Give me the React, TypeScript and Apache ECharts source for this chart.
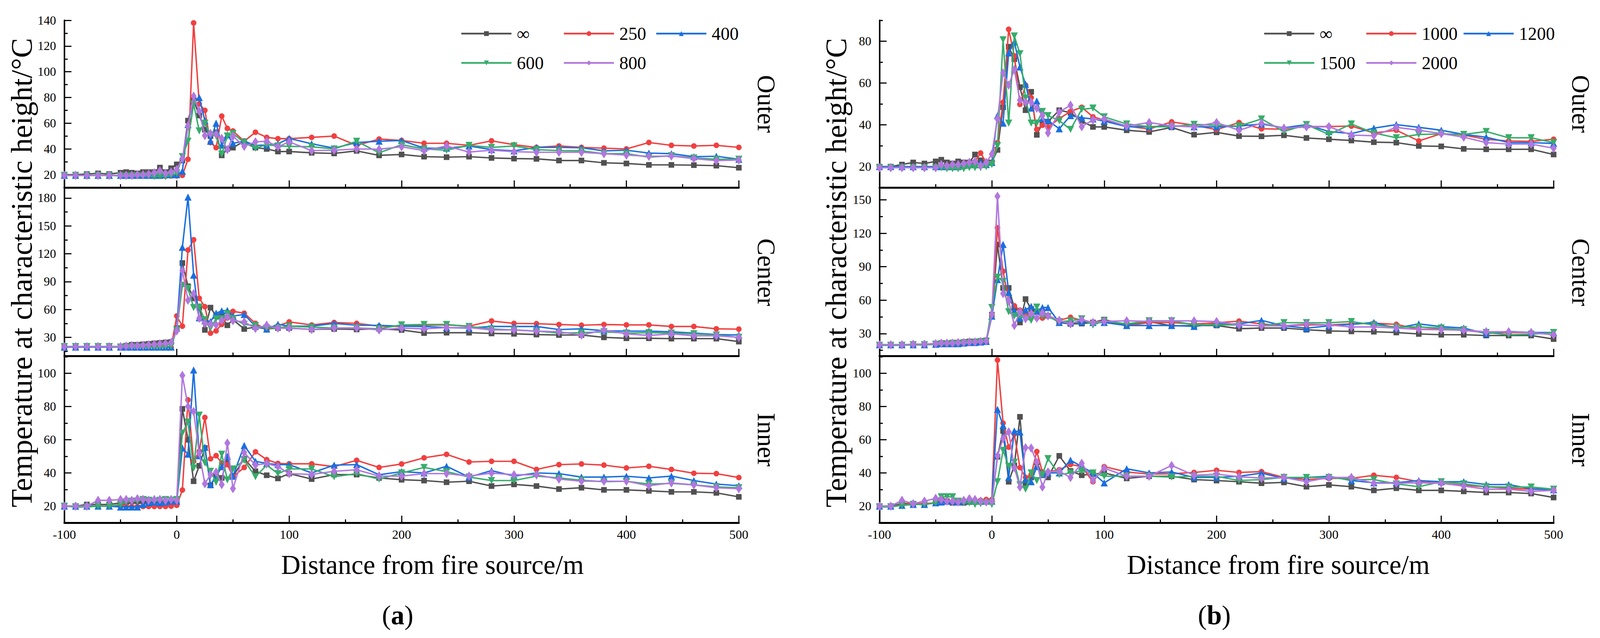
import React, { useEffect, useRef } from 'react';
import * as echarts from 'echarts';

const FONT = '"Liberation Serif", "Times New Roman", serif';
const REF_W = 4277;
const REF_H = 1633;

const distances = [-100, -90, -80, -70, -60, -50, -45, -40, -35, -30, -25, -20, -15, -10, -5, 0, 5, 10, 15, 20, 25, 30, 35, 40, 45, 50, 60, 70, 80, 90, 100, 120, 140, 160, 180, 200, 220, 240, 260, 280, 300, 320, 340, 360, 380, 400, 420, 440, 460, 480, 500];
const xTicks = [-100, 0, 100, 200, 300, 400, 500];

const aNames = ['∞', '250', '400', '600', '800'];
const bNames = ['∞', '1000', '1200', '1500', '2000'];

// (a) Outer
const aOuterInf = [20, 20, 20.5, 21, 20.5, 21.5, 22, 21.5, 21, 22, 22, 22, 25.5, 22, 25, 28, 31, 62, 78, 66, 55, 50, 53, 35, 40, 41, 46, 41, 40, 38, 38, 37, 36.5, 38.5, 35, 35.7, 34, 33.6, 34, 33, 32.5, 32.3, 31, 31, 29.2, 28.7, 27.6, 27.6, 27.4, 27, 25.4];
const aOuter250 = [19.5, 19.5, 19.5, 19.5, 19.5, 19.5, 19, 19, 19, 19, 19, 19, 18.8, 18.8, 19, 19, 19.5, 32, 138, 75, 70, 45, 41, 65.5, 56, 54, 46, 53, 49, 48, 48, 49, 50, 42.8, 47.7, 46.6, 44.4, 44.4, 42.8, 46.3, 43.3, 41.2, 42.3, 41.2, 40.6, 40, 45, 42.8, 42.3, 42.8, 41.2];
const aOuter400 = [19.5, 19.5, 19.5, 19.5, 19.5, 19.5, 19.5, 19.5, 19.5, 19.5, 19.5, 19.5, 19.5, 20, 20, 20, 22.7, 59, 77, 80, 62, 46, 60, 43, 51, 44.4, 46, 42.8, 43, 44, 48.2, 44, 40.6, 45, 46, 46.6, 40.6, 40.6, 42.3, 39.5, 38.5, 41.2, 41.2, 40.9, 38.5, 39, 36.8, 36.3, 34, 34.3, 32];
const aOuter600 = [19.5, 19.5, 19.5, 19.5, 19.5, 19, 19, 19, 19, 19, 19, 18.5, 19, 18.5, 19.5, 21, 34, 46, 75, 54, 60, 51, 50, 36, 50, 52, 45, 40.6, 43.3, 42.3, 42, 41.7, 40, 46, 37, 43.3, 40, 39, 42.8, 41.2, 42.3, 39.5, 38.7, 38.5, 36.3, 36.3, 33.6, 34.7, 33, 32, 32];
const aOuter800 = [19.5, 19.5, 19.5, 19.5, 19.5, 19.5, 19.5, 19.5, 20, 20, 20.5, 21.5, 23, 21, 22, 24, 32.5, 58, 81, 69.4, 50.4, 52, 51.5, 48.2, 39.5, 49.9, 42, 45.5, 46, 41.7, 45.5, 38.7, 39, 40, 39.8, 41.7, 38.7, 42.3, 37.6, 39, 37.9, 37.4, 37.4, 37.4, 36.3, 35.2, 34.3, 34.5, 32.5, 30.9, 31.4];

// (a) Center
const aCenterInf = [20, 20, 20, 20, 20, 20, 21, 22, 22, 22.5, 23, 23.5, 24, 24.5, 25, 40, 110, 85, 72, 62, 38, 62, 53, 52, 43, 49, 39, 41, 39, 40, 40, 38.5, 39, 38.5, 39.2, 37.9, 34.6, 35, 35, 34.2, 33.8, 33, 32.5, 32.5, 30, 29, 29, 28.6, 28.6, 28.6, 25.4];
const aCenter250 = [20, 20, 20, 20, 20, 20, 20, 20, 20, 20, 20, 20, 20, 20, 19, 53, 42, 124, 135, 72, 63, 34.5, 37, 44, 51, 58, 56, 45, 38, 42.5, 46.6, 43.3, 46, 45, 42.1, 41.7, 43, 43.4, 42.1, 47.6, 45, 44.7, 43.8, 43, 43.8, 43.4, 43.4, 41.7, 41.7, 39.2, 38.8];
const aCenter400 = [19.5, 19.5, 19.5, 19.5, 19.5, 19.5, 19.5, 19.5, 19.5, 19.5, 19.5, 19.5, 19.5, 19.5, 19.5, 40, 127, 181, 97, 51, 48, 47, 56, 58.5, 59, 53, 54.6, 42, 39, 44, 42, 42, 45, 43, 42.9, 42, 41.7, 40.5, 40, 41.7, 41.7, 41.7, 38.4, 39.2, 37.1, 36.7, 36.7, 35.9, 34.6, 33, 32.5];
const aCenter600 = [20, 20, 20, 20, 20, 19.5, 19.5, 19.5, 19.5, 19.5, 19.5, 19.5, 19.5, 20, 20.5, 38, 86, 82.7, 62, 62.6, 49, 40, 49.8, 50, 55.4, 50, 44, 42.5, 40, 40, 42, 41, 40, 40, 39.2, 43.4, 43.8, 43.8, 41.7, 39, 37.9, 36.7, 34.6, 35, 36, 34.6, 35, 34.6, 33.8, 32.5, 30];
const aCenter800 = [20, 20, 20, 20, 20, 20, 20.5, 21, 21, 21.5, 22, 22.5, 23, 23.5, 24.5, 37, 102, 70, 77, 50.6, 45, 44, 43.3, 48.2, 52, 48, 46.6, 39.6, 43, 40, 40, 38.5, 40, 40, 38, 40, 39.2, 40.5, 40.5, 38, 38, 36.7, 36, 32.5, 37.9, 33.8, 32, 33.8, 31.7, 31.7, 30];

// (a) Inner
const aInnerInf = [20, 20, 21, 21, 21, 22, 22.5, 23, 23, 23, 22.5, 23, 23, 22.5, 23, 22.6, 78.6, 60, 35, 44.3, 55, 32.5, 38, 37, 48, 38, 48.5, 41, 38.6, 36.7, 39.6, 36.3, 39, 39, 37, 35.9, 35.4, 34.4, 35, 32.1, 33.1, 32.1, 30.3, 31.1, 29.8, 29.8, 29.2, 28.6, 28.6, 28, 25.6];
const aInner250 = [20, 20, 20, 20, 20, 20, 20, 19.8, 19.8, 19.8, 19.8, 19.8, 19.8, 19.8, 20, 20.5, 29.7, 84, 47, 53, 73.4, 48.5, 50.4, 46, 45, 37.7, 43.3, 52.7, 48, 45.7, 45.5, 45.5, 43.8, 47.6, 43.3, 45.4, 49.1, 51.2, 46.6, 47, 47, 42.1, 45, 45.4, 44.7, 43, 44, 42.1, 39.8, 39.6, 37.2];
const aInner400 = [20, 20, 20, 20, 20, 19.5, 19.5, 19.5, 19.5, 21, 22, 22.5, 22, 22.5, 23, 23, 55, 51.3, 102, 50.4, 55.5, 33, 37.7, 43.8, 50, 38, 56.5, 47, 45.7, 45, 45, 40, 44.7, 45, 38.9, 40.8, 40, 44, 37.5, 41.4, 38.1, 40, 39.6, 37.5, 37.5, 38, 37, 38.1, 35.4, 33.3, 32.3];
const aInner600 = [20, 19.5, 19.5, 20, 20, 21, 22.5, 23, 23, 24, 23.5, 23, 23.5, 24, 23.5, 24, 64, 70.6, 42.9, 74.8, 46.1, 41, 34.4, 51.3, 35.8, 42.4, 47.6, 37.7, 44.7, 39.6, 42.4, 42.4, 37.7, 39.6, 36.3, 40, 43.3, 40.8, 37.5, 35.4, 35.4, 38.1, 37, 35.6, 34.7, 35, 33.3, 33.7, 32.8, 31.6, 31.1];
const aInner800 = [20, 20, 20, 23.5, 23.5, 24, 24, 23.5, 24.5, 24, 23.5, 24, 24, 23.5, 24, 23.5, 98.7, 80, 77, 52, 33.5, 39, 40.5, 33, 58, 30.6, 52.3, 44.7, 45.7, 43.8, 39.6, 39.1, 41, 41.9, 38.1, 38.1, 39.6, 39.6, 38.1, 39.9, 38.9, 38.9, 36.3, 35, 35, 35, 32.3, 34, 32.8, 31.1, 30.5];

// (b) Outer
const bOuterInf = [20, 20, 21, 22, 21.5, 22.5, 23.3, 22, 21.5, 22.5, 22, 22, 25.8, 23, 22, 22, 28, 48.4, 77.4, 71.4, 58, 47, 55.8, 35.2, 40.8, 41.5, 47, 45.8, 41.8, 39, 39, 37.4, 36.6, 38.8, 35.3, 36.4, 34.6, 34.5, 35, 33.7, 33.1, 32.5, 31.7, 31.5, 29.9, 29.7, 28.5, 28.3, 28.3, 28.3, 25.8];
const bOuter1000 = [20, 20, 20, 20, 20, 20, 20, 20, 20, 20, 20, 21, 22.5, 26.5, 22, 22, 31.5, 50.8, 85.7, 73, 49.8, 59, 53, 37.8, 39.8, 38.8, 43, 46.4, 48.4, 43.8, 42.4, 39.4, 38, 41.4, 39.8, 37.7, 41.1, 38.1, 37.9, 39.2, 39.2, 39.4, 36.1, 37.4, 32.3, 35.8, 35.1, 33.1, 32.3, 32.1, 33.1];
const bOuter1200 = [20, 20, 20, 20, 20, 20, 20, 20, 20, 20, 21, 21.5, 21, 22, 21, 22, 44.4, 40.8, 74.4, 79.7, 67.7, 59.4, 48, 51.4, 43, 42.1, 38.1, 44.4, 43.4, 42.8, 41.8, 39.1, 39.1, 39.5, 39.1, 39, 39.4, 40.4, 38.6, 40.1, 36.8, 35.8, 38.4, 40.1, 38.8, 37.4, 35.4, 34.1, 31.5, 31.5, 31.1];
const bOuter1500 = [19.5, 19.5, 19.5, 19.5, 19.5, 19.5, 19.5, 19, 19, 19, 19, 19.5, 19.5, 19.5, 20, 21, 30, 80.7, 40.8, 82.5, 74, 52.8, 40.8, 40.8, 46.4, 44.4, 42, 37.8, 47.4, 48, 43.8, 40.4, 39.1, 39.1, 40.2, 39.8, 39.4, 42.8, 36.8, 40.1, 35.4, 40.4, 36.1, 33.8, 35.4, 35.6, 35.4, 36.8, 33.8, 33.8, 31.5];
const bOuter2000 = [19.5, 19.5, 19.5, 19.5, 19.5, 19.5, 21, 20.5, 21, 21, 21.5, 22, 22.5, 20.5, 22, 26, 42.8, 64.8, 59, 66.4, 51.8, 50.8, 50.8, 48, 44.4, 36.1, 46.1, 49.4, 39.1, 42.4, 42.8, 39.4, 41.1, 39.5, 39, 41.1, 37.4, 40.8, 38.4, 39, 39.1, 35.1, 34.8, 38.8, 37.4, 35.8, 34.1, 31.5, 30.8, 30.8, 28.8];

// (b) Center
const bCenterInf = [20, 20, 20, 20.5, 20.5, 21, 21.5, 21.5, 22, 22, 22.5, 23, 23, 23.5, 24, 47, 110, 71, 71, 53, 40, 61, 52, 50, 48.5, 46, 40, 38.7, 39, 40, 42.6, 37.7, 40.8, 37, 37.3, 37.3, 34.4, 35, 35, 33.5, 32.4, 32, 31.7, 31, 29.7, 29, 29, 28.3, 28.3, 28.3, 25.1];
const bCenter1000 = [20, 20, 20, 20, 20, 20.5, 21, 21, 21, 21.5, 22, 22.5, 22.5, 23, 23.5, 46, 125, 86, 60, 55, 51, 48, 46, 44, 44, 46, 42, 44.6, 42, 40, 41, 37, 40, 40, 38.5, 39.8, 41.2, 38.7, 37, 37.8, 37.8, 38.7, 39.4, 38.3, 33.8, 34.4, 33, 31, 31, 31, 29];
const bCenter1200 = [20, 20, 20, 20, 20, 20.5, 21, 21, 21, 21, 21.5, 22, 22, 22.5, 23, 45.7, 78.5, 110, 67, 50.6, 44, 51.3, 54.4, 50, 53.4, 53.4, 40, 40, 40.5, 40, 40, 37.3, 37.3, 37.3, 36.5, 38.7, 38.7, 41.9, 37, 34.9, 37, 38.3, 40, 35, 38.7, 36.3, 35, 30, 32, 31, 31];
const bCenter1500 = [19.5, 19.5, 19.5, 20, 20, 20.5, 20.5, 20.5, 21, 21, 21.5, 21.5, 22, 22.5, 23, 53.4, 80.6, 76.8, 49.6, 45.7, 45.7, 43.4, 41.9, 53.8, 45.7, 45, 40.8, 41.5, 43.3, 37.7, 41.5, 38.7, 41.5, 41.5, 37.8, 37.8, 37.8, 37, 39.8, 39.8, 39.8, 40.8, 37.8, 36, 36, 35, 33.5, 31, 29, 29.5, 31];
const bCenter2000 = [20, 20, 20, 20.5, 20.5, 21, 21.5, 21.5, 21.5, 22, 22, 22.5, 22.5, 23, 23.5, 47.4, 153.2, 66, 59.3, 37.3, 49.6, 43.4, 48, 44, 48.6, 46, 41.9, 38.7, 42.6, 40, 41, 41.5, 41, 41.5, 41.4, 40.8, 37.8, 37, 37, 38.7, 37.8, 36, 36, 35, 33.8, 33.5, 33, 31.7, 31.7, 31, 29];

// (b) Inner
const bInnerInf = [20, 20, 21.7, 21.5, 21, 22.3, 23.6, 23, 22, 22.5, 22, 22.5, 22.5, 22.5, 23, 23, 49.7, 65.3, 34.7, 44.5, 73.8, 34, 37.3, 46.4, 38.6, 37.3, 50.3, 41.2, 38.6, 39.3, 40, 36.7, 38, 38, 36, 35.4, 34.7, 33.8, 34.3, 31.7, 32.8, 31.7, 29.5, 30.8, 29.5, 29.5, 28.9, 28.2, 28.2, 27.6, 25.2];
const bInner1000 = [20, 20, 21, 21.5, 21.5, 22, 23, 23, 22.5, 23, 23.5, 23, 23.5, 23.5, 24, 24, 108, 70, 55.5, 63.4, 43.2, 37.3, 39, 52.9, 40.6, 40.6, 41.9, 45.1, 43.8, 34.7, 43.8, 40.6, 39.3, 39.5, 40.3, 41.6, 40.3, 40.8, 37.3, 36, 36.7, 36.7, 38.6, 37.3, 34.7, 33.8, 32.5, 31.7, 30.8, 30.2, 29.9];
const bInner1200 = [20, 20, 20.5, 21, 21, 22, 22.5, 23, 23, 22.5, 23, 24, 23.5, 23, 23, 23, 78.3, 68.6, 37.3, 65.3, 64.7, 36, 34.7, 43.8, 39.3, 40, 40, 47.7, 43.8, 40, 34, 42.5, 40, 40.6, 37.3, 37.3, 38, 39.9, 36.7, 37.3, 38, 35.4, 34.1, 34.1, 35.4, 34.7, 34.7, 33, 33, 30.4, 29.9];
const bInner1500 = [19.5, 19.5, 20.5, 21, 21, 22, 25.6, 25.6, 25.6, 23, 22, 22, 21, 21.5, 22, 21, 34.7, 53.6, 44, 46.4, 32.8, 30.2, 40, 35.4, 39, 48.6, 39, 40, 41.2, 40, 38, 38, 38, 37.5, 38, 38, 35.4, 36, 37.3, 37.3, 37.3, 36, 36, 33.4, 31.7, 34.7, 33.4, 31.7, 31.5, 31.5, 30.2];
const bInner2000 = [20, 20, 23.5, 21.5, 23, 24.7, 24, 23, 23, 22.5, 23.5, 24.5, 24, 23, 22.5, 23, 50.3, 60.7, 64.7, 43.2, 31.5, 55.2, 55, 46.4, 31.5, 40.6, 41, 37.3, 45.8, 35.6, 42.9, 38, 38, 44.5, 38.6, 39.3, 37.7, 36.9, 37.3, 34.7, 37.3, 37.3, 33.8, 33.8, 34.1, 33.8, 32.1, 30.2, 30.2, 28.9, 29.5];

// y-axis tick labels / minor ticks
const aOuterTicks = [20, 40, 60, 80, 100, 120, 140];
const aOuterMinor = [30, 50, 70, 90, 110, 130];
const aCenterTicks = [30, 60, 90, 120, 150, 180];
const aCenterMinor = [15, 45, 75, 105, 135, 165];
const innerTicks = [20, 40, 60, 80, 100];
const innerMinor = [30, 50, 70, 90, 110];
const bOuterTicks = [20, 40, 60, 80];
const bOuterMinor = [30, 50, 70, 90];
const bCenterTicks = [30, 60, 90, 120, 150];
const bCenterMinor = [15, 45, 75, 105, 135];

const positionLabels = ['Outer', 'Center', 'Inner'];

const colors = ['#515151', '#F14040', '#1A6FDF', '#37AD6B', '#B177DE'];
const markerShapes = ['rect', 'circle', 'triangle', 'triangle', 'diamond'];
const markerRotations = [0, 0, 0, 180, 0];

function buildOption(sx: number, sy: number) {
  const f = Math.min(sx, sy);
  const X = (v: number) => v * sx;
  const Y = (v: number) => v * sy;
  const markerSizes: any[] = [15 * f, 15 * f, 19 * f, 19 * f, [16 * f, 25 * f]];

  const panels = [
    {
      left: 172, width: 1803, names: aNames,
      legendX: [1231, 1505, 1752, 1231, 1505], labelX: 2049, yTitleX: 58, xTitleX: 1156, tagX: 1063, tag: 'a',
      rows: [
        { vals: [aOuterInf, aOuter250, aOuter400, aOuter600, aOuter800], min: 10, max: 140, ticks: aOuterTicks, minor: aOuterMinor },
        { vals: [aCenterInf, aCenter250, aCenter400, aCenter600, aCenter800], min: 10, max: 190, ticks: aCenterTicks, minor: aCenterMinor },
        { vals: [aInnerInf, aInner250, aInner400, aInner600, aInner800], min: 10, max: 110, ticks: innerTicks, minor: innerMinor },
      ],
    },
    {
      left: 2351, width: 1802, names: bNames,
      legendX: [3377, 3650, 3910, 3377, 3650], labelX: 4226, yTitleX: 2235, xTitleX: 3417, tagX: 3246, tag: 'b',
      rows: [
        { vals: [bOuterInf, bOuter1000, bOuter1200, bOuter1500, bOuter2000], min: 10, max: 90, ticks: bOuterTicks, minor: bOuterMinor },
        { vals: [bCenterInf, bCenter1000, bCenter1200, bCenter1500, bCenter2000], min: 10, max: 160, ticks: bCenterTicks, minor: bCenterMinor },
        { vals: [bInnerInf, bInner1000, bInner1200, bInner1500, bInner2000], min: 10, max: 110, ticks: innerTicks, minor: innerMinor },
      ],
    },
  ];
  const rowBoxes = [
    { top: 52, height: 428 },
    { top: 483, height: 428 },
    { top: 913, height: 425 },
  ];
  const legendRowY = [86, 86, 86, 161, 161];

  const grid: any[] = [];
  const xAxis: any[] = [];
  const yAxis: any[] = [];
  const series: any[] = [];
  const legend: any[] = [];
  const graphic: any[] = [];
  const black = '#000';

  panels.forEach((panel, p) => {
    panel.rows.forEach((row, r) => {
      const g = p * 3 + r;
      const box = rowBoxes[r];
      grid.push({ left: X(panel.left), width: X(panel.width), top: Y(box.top), height: Y(box.height), containLabel: false });
      xAxis.push({
        type: 'value', gridIndex: g, min: -100, max: 500, interval: 100,
        axisLine: { show: true, onZero: false, lineStyle: { color: black, width: 5 * f } },
        axisTick: { show: true, inside: true, length: 19 * f, lineStyle: { color: black, width: 3 * f } },
        minorTick: { show: true, splitNumber: 2, length: 9 * f, lineStyle: { color: black, width: 3 * f } },
        splitLine: { show: false },
        minorSplitLine: { show: false },
        axisLabel: {
          show: r === 2, fontSize: 34 * f, fontFamily: FONT, color: black, margin: 14 * f,
          customValues: xTicks,
        },
      });
      yAxis.push({
        type: 'value', gridIndex: g, position: 'left', min: row.min, max: row.max, interval: 5,
        axisLine: { show: true, onZero: false, lineStyle: { color: black, width: 4 * f } },
        axisTick: { show: true, inside: true, length: 19 * f, customValues: row.ticks, lineStyle: { color: black, width: 3 * f } },
        axisLabel: { show: true, customValues: row.ticks, fontSize: 33 * f, fontFamily: FONT, color: black, margin: 22 * f },
        splitLine: { show: false },
      });
      yAxis.push({
        type: 'value', gridIndex: g, position: 'left', min: row.min, max: row.max, interval: 5,
        axisLine: { show: false, onZero: false },
        axisTick: { show: true, inside: true, length: 9 * f, customValues: row.minor, lineStyle: { color: black, width: 3 * f } },
        axisLabel: { show: false },
        splitLine: { show: false },
      });
      row.vals.forEach((vals, s) => {
        series.push({
          type: 'line',
          name: panel.names[s],
          xAxisIndex: g,
          yAxisIndex: g * 2,
          data: distances.map((d, i) => [d, vals[i]]),
          symbol: markerShapes[s],
          symbolSize: markerSizes[s],
          symbolRotate: markerRotations[s],
          showSymbol: true,
          showAllSymbol: true,
          lineStyle: { color: colors[s], width: 3.8 * f },
          itemStyle: { color: colors[s] },
          z: 2 + s,
          animation: false,
        });
      });
      graphic.push({
        type: 'text', x: X(panel.labelX), y: Y(box.top + box.height / 2), rotation: -Math.PI / 2,
        style: { text: positionLabels[r], fontSize: 68 * f, fontFamily: FONT, fill: black, align: 'center', verticalAlign: 'middle' },
      });
    });
    panel.names.forEach((name, s) => {
      legend.push({
        data: [name],
        left: X(panel.legendX[s]), top: Y(legendRowY[s]) - 25 * f,
        padding: 0, itemGap: 0, itemWidth: 134 * f, itemHeight: 16 * f,
        selectedMode: false,
        lineStyle: { width: 4.5 * f },
        textStyle: { fontSize: 48 * f, fontFamily: FONT, color: black, lineHeight: 50 * f, padding: [0, 0, 0, 9 * f] },
      });
    });
    graphic.push({
      type: 'text', x: X(panel.yTitleX), y: Y(698), rotation: Math.PI / 2,
      style: { text: 'Temperature at characteristic height/°C', fontSize: 80 * f, fontFamily: FONT, fill: black, align: 'center', verticalAlign: 'middle' },
    });
    graphic.push({
      type: 'text', x: X(panel.xTitleX), y: Y(1446),
      style: { text: 'Distance from fire source/m', fontSize: 72 * f, fontFamily: FONT, fill: black, align: 'center', verticalAlign: 'middle' },
    });
    graphic.push({
      type: 'text', x: X(panel.tagX), y: Y(1575),
      style: {
        text: '{p|(}{b|' + panel.tag + '}{p|)}',
        rich: {
          p: { fontSize: 72 * f, fontFamily: FONT, fill: black },
          b: { fontSize: 72 * f, fontFamily: FONT, fontWeight: 'bold', fill: black },
        },
        align: 'center', verticalAlign: 'middle',
      },
    });
  });

  return {
    animation: false,
    backgroundColor: '#fff',
    grid, xAxis, yAxis, series, legend, graphic,
  };
}

export default function App() {
  const ref = useRef<HTMLDivElement>(null);
  useEffect(() => {
    const el = ref.current;
    if (!el) return;
    const w = el.clientWidth || REF_W;
    const h = el.clientHeight || REF_H;
    const chart = echarts.init(el, undefined, { renderer: 'svg', width: w, height: h });
    chart.setOption(buildOption(w / REF_W, h / REF_H) as any);
    return () => chart.dispose();
  }, []);
  return <div ref={ref} style={{ position: 'fixed', left: 0, top: 0, width: '100vw', height: '100vh', background: '#fff' }} />;
}
